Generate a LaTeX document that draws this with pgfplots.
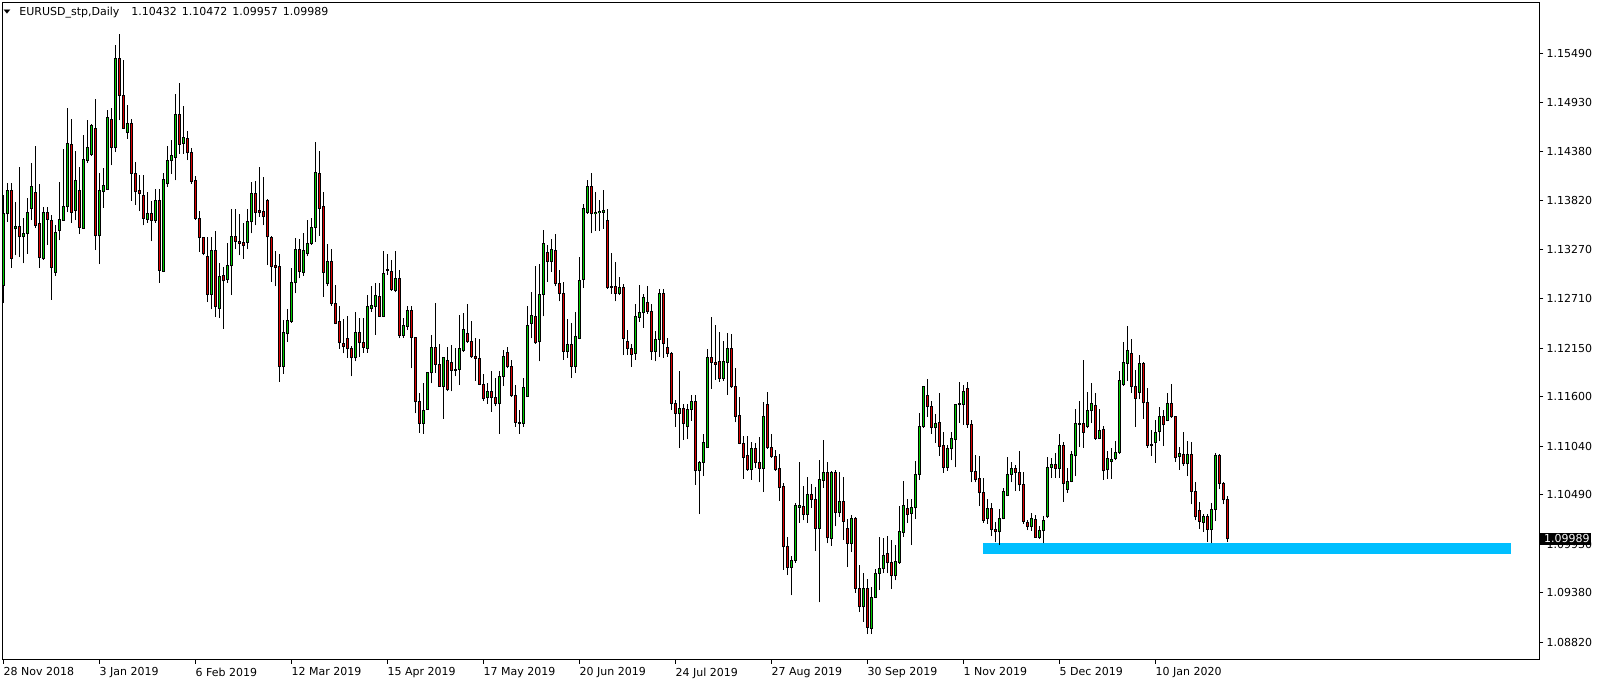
\documentclass[border=0pt]{standalone}
\usepackage{pgfplots}
\usepackage{pgfplotstable}
\usepackage{fontspec}
\setmainfont{DejaVu Sans}
\pgfplotsset{compat=1.18}

\definecolor{bull}{RGB}{0,205,0}
\definecolor{bear}{RGB}{220,0,0}
\definecolor{zone}{RGB}{0,191,255}

% EURUSD daily bars, i = 0 is 28 Nov 2018, i = 306 is 5 Feb 2020
\pgfplotstableread{
i o h l c
0 1.1286 1.1388 1.1266 1.1367
1 1.1367 1.1402 1.1358 1.1394
2 1.1394 1.1402 1.1306 1.1317
3 1.1350 1.1380 1.1320 1.1353
4 1.1353 1.1420 1.1318 1.1341
5 1.1341 1.1362 1.1311 1.1345
6 1.1345 1.1385 1.1322 1.1369
7 1.1373 1.1425 1.1360 1.1398
8 1.1391 1.1444 1.1351 1.1354
9 1.1356 1.1401 1.1306 1.1318
10 1.1316 1.1375 1.1315 1.1369
11 1.1369 1.1375 1.1332 1.1361
12 1.1360 1.1366 1.1270 1.1306
13 1.1301 1.1354 1.1297 1.1346
14 1.1348 1.1403 1.1337 1.1361
15 1.1360 1.1440 1.1359 1.1375
16 1.1375 1.1487 1.1369 1.1447
17 1.1446 1.1474 1.1357 1.1369
18 1.1371 1.1438 1.1360 1.1405
19 1.1393 1.1420 1.1344 1.1352
20 1.1351 1.1456 1.1350 1.1429
21 1.1428 1.1473 1.1425 1.1442
22 1.1434 1.1469 1.1433 1.1467
23 1.1464 1.1497 1.1326 1.1342
24 1.1342 1.1413 1.1310 1.1394
25 1.1392 1.1419 1.1374 1.1399
26 1.1395 1.1485 1.1394 1.1476
27 1.1474 1.1487 1.1422 1.1442
28 1.1442 1.1558 1.1437 1.1543
29 1.1543 1.1571 1.1473 1.1501
30 1.1501 1.1541 1.1463 1.1464
31 1.1459 1.1490 1.1452 1.1469
32 1.1469 1.1474 1.1382 1.1413
33 1.1413 1.1426 1.1377 1.1392
34 1.1393 1.1411 1.1370 1.1390
35 1.1388 1.1411 1.1354 1.1362
36 1.1361 1.1392 1.1357 1.1367
37 1.1367 1.1382 1.1336 1.1360
38 1.1359 1.1395 1.1357 1.1382
39 1.1382 1.1395 1.1289 1.1303
40 1.1302 1.1413 1.1301 1.1406
41 1.1401 1.1444 1.1398 1.1427
42 1.1427 1.1451 1.1412 1.1433
43 1.1431 1.1503 1.1405 1.1480
44 1.1480 1.1515 1.1435 1.1446
45 1.1447 1.1489 1.1435 1.1454
46 1.1452 1.1461 1.1428 1.1436
47 1.1436 1.1442 1.1401 1.1404
48 1.1405 1.1410 1.1360 1.1362
49 1.1362 1.1370 1.1324 1.1340
50 1.1340 1.1341 1.1320 1.1322
51 1.1319 1.1341 1.1267 1.1276
52 1.1276 1.1341 1.1259 1.1326
53 1.1326 1.1348 1.1250 1.1262
54 1.1260 1.1311 1.1249 1.1296
55 1.1297 1.1307 1.1237 1.1291
56 1.1293 1.1334 1.1289 1.1309
57 1.1308 1.1373 1.1275 1.1341
58 1.1341 1.1373 1.1327 1.1336
59 1.1336 1.1367 1.1320 1.1334
60 1.1335 1.1357 1.1316 1.1331
61 1.1335 1.1373 1.1327 1.1358
62 1.1358 1.1403 1.1345 1.1390
63 1.1390 1.1404 1.1354 1.1369
64 1.1371 1.1420 1.1364 1.1369
65 1.1370 1.1409 1.1354 1.1364
66 1.1382 1.1384 1.1309 1.1341
67 1.1340 1.1342 1.1290 1.1307
68 1.1308 1.1325 1.1285 1.1306
69 1.1307 1.1322 1.1177 1.1194
70 1.1194 1.1247 1.1186 1.1233
71 1.1231 1.1259 1.1222 1.1246
72 1.1245 1.1306 1.1244 1.1289
73 1.1289 1.1340 1.1277 1.1327
74 1.1327 1.1339 1.1294 1.1302
75 1.1301 1.1345 1.1297 1.1325
76 1.1322 1.1360 1.1319 1.1334
77 1.1334 1.1362 1.1332 1.1352
78 1.1352 1.1448 1.1335 1.1414
79 1.1413 1.1438 1.1342 1.1373
80 1.1375 1.1392 1.1273 1.1301
81 1.1288 1.1333 1.1285 1.1313
82 1.1313 1.1327 1.1263 1.1265
83 1.1266 1.1286 1.1242 1.1243
84 1.1245 1.1263 1.1214 1.1221
85 1.1220 1.1248 1.1209 1.1217
86 1.1226 1.1251 1.1204 1.1214
87 1.1214 1.1217 1.1183 1.1204
88 1.1204 1.1256 1.1200 1.1233
89 1.1233 1.1249 1.1205 1.1221
90 1.1221 1.1249 1.1210 1.1216
91 1.1215 1.1275 1.1210 1.1262
92 1.1260 1.1285 1.1256 1.1263
93 1.1262 1.1289 1.1230 1.1275
94 1.1274 1.1289 1.1250 1.1251
95 1.1251 1.1325 1.1250 1.1299
96 1.1304 1.1322 1.1298 1.1303
97 1.1302 1.1315 1.1280 1.1281
98 1.1280 1.1325 1.1278 1.1294
99 1.1294 1.1304 1.1226 1.1229
100 1.1229 1.1249 1.1227 1.1241
101 1.1240 1.1263 1.1236 1.1258
102 1.1258 1.1263 1.1192 1.1227
103 1.1227 1.1228 1.1141 1.1154
104 1.1155 1.1164 1.1119 1.1130
105 1.1130 1.1175 1.1118 1.1144
106 1.1146 1.1188 1.1145 1.1187
107 1.1187 1.1230 1.1175 1.1216
108 1.1216 1.1266 1.1187 1.1197
109 1.1196 1.1220 1.1171 1.1172
110 1.1172 1.1205 1.1135 1.1204
111 1.1201 1.1216 1.1166 1.1168
112 1.1199 1.1218 1.1166 1.1190
113 1.1190 1.1215 1.1183 1.1191
114 1.1191 1.1252 1.1173 1.1214
115 1.1212 1.1255 1.1211 1.1236
116 1.1231 1.1265 1.1221 1.1222
117 1.1222 1.1246 1.1204 1.1205
118 1.1205 1.1226 1.1178 1.1203
119 1.1203 1.1225 1.1173 1.1174
120 1.1174 1.1186 1.1155 1.1158
121 1.1159 1.1176 1.1152 1.1166
122 1.1166 1.1189 1.1143 1.1159
123 1.1159 1.1181 1.1149 1.1152
124 1.1152 1.1189 1.1118 1.1183
125 1.1183 1.1213 1.1172 1.1206
126 1.1210 1.1216 1.1192 1.1194
127 1.1194 1.1202 1.1160 1.1161
128 1.1161 1.1173 1.1126 1.1131
129 1.1131 1.1145 1.1118 1.1130
130 1.1130 1.1181 1.1126 1.1170
131 1.1160 1.1263 1.1160 1.1241
132 1.1243 1.1278 1.1226 1.1252
133 1.1251 1.1308 1.1220 1.1221
134 1.1222 1.1310 1.1200 1.1276
135 1.1276 1.1349 1.1251 1.1334
136 1.1323 1.1332 1.1290 1.1313
137 1.1313 1.1339 1.1301 1.1327
138 1.1326 1.1344 1.1285 1.1288
139 1.1288 1.1304 1.1268 1.1277
140 1.1277 1.1290 1.1202 1.1211
141 1.1211 1.1248 1.1204 1.1219
142 1.1219 1.1243 1.1181 1.1194
143 1.1194 1.1256 1.1187 1.1228
144 1.1226 1.1318 1.1225 1.1292
145 1.1293 1.1378 1.1283 1.1373
146 1.1369 1.1405 1.1367 1.1398
147 1.1398 1.1413 1.1345 1.1367
148 1.1367 1.1392 1.1348 1.1369
149 1.1368 1.1383 1.1348 1.1370
150 1.1369 1.1394 1.1350 1.1371
151 1.1360 1.1373 1.1282 1.1284
152 1.1285 1.1323 1.1276 1.1284
153 1.1285 1.1313 1.1268 1.1277
154 1.1277 1.1296 1.1275 1.1284
155 1.1284 1.1288 1.1207 1.1226
156 1.1222 1.1236 1.1207 1.1215
157 1.1215 1.1220 1.1194 1.1208
158 1.1209 1.1265 1.1202 1.1251
159 1.1250 1.1286 1.1245 1.1255
160 1.1255 1.1276 1.1238 1.1272
161 1.1267 1.1285 1.1254 1.1257
162 1.1257 1.1265 1.1202 1.1211
163 1.1211 1.1234 1.1200 1.1225
164 1.1225 1.1282 1.1205 1.1277
165 1.1277 1.1282 1.1204 1.1220
166 1.1216 1.1226 1.1205 1.1209
167 1.1209 1.1211 1.1145 1.1152
168 1.1152 1.1156 1.1126 1.1141
169 1.1141 1.1189 1.1102 1.1147
170 1.1147 1.1152 1.1111 1.1130
171 1.1126 1.1152 1.1112 1.1146
172 1.1146 1.1162 1.1133 1.1154
173 1.1154 1.1162 1.1060 1.1076
174 1.1076 1.1087 1.1027 1.1086
175 1.1086 1.1118 1.1070 1.1108
176 1.1102 1.1214 1.1102 1.1204
177 1.1204 1.1250 1.1169 1.1199
178 1.1199 1.1241 1.1179 1.1197
179 1.1200 1.1233 1.1177 1.1181
180 1.1181 1.1223 1.1178 1.1200
181 1.1199 1.1232 1.1162 1.1215
182 1.1214 1.1231 1.1170 1.1171
183 1.1172 1.1192 1.1131 1.1138
184 1.1139 1.1160 1.1106 1.1107
185 1.1107 1.1115 1.1067 1.1091
186 1.1093 1.1115 1.1076 1.1078
187 1.1078 1.1109 1.1066 1.1101
188 1.1101 1.1107 1.1079 1.1085
189 1.1086 1.1114 1.1063 1.1079
190 1.1079 1.1154 1.1052 1.1137
191 1.1151 1.1165 1.1101 1.1102
192 1.1102 1.1118 1.1091 1.1092
193 1.1092 1.1100 1.1076 1.1078
194 1.1079 1.1095 1.1042 1.1057
195 1.1058 1.1062 1.0964 1.0990
196 1.0990 1.1001 1.0958 1.0967
197 1.0967 1.0980 1.0935 1.0974
198 1.0974 1.1040 1.0972 1.1037
199 1.1035 1.1086 1.1017 1.1037
200 1.1036 1.1059 1.1020 1.1027
201 1.1027 1.1069 1.1017 1.1049
202 1.1049 1.1061 1.1034 1.1044
203 1.1044 1.1058 1.0985 1.1011
204 1.1011 1.1088 1.0927 1.1066
205 1.1065 1.1111 1.1057 1.1074
206 1.1074 1.1086 1.0994 1.1000
207 1.0999 1.1076 1.0991 1.1074
208 1.1074 1.1077 1.1013 1.1029
209 1.1029 1.1075 1.1024 1.1041
210 1.1041 1.1069 1.0998 1.1019
211 1.1011 1.1022 1.0967 1.0994
212 1.0994 1.1026 1.0984 1.1022
213 1.1022 1.1024 1.0938 1.0943
214 1.0943 1.0969 1.0916 1.0922
215 1.0922 1.0960 1.0905 1.0943
216 1.0943 1.0954 1.0891 1.0899
217 1.0898 1.0944 1.0891 1.0933
218 1.0933 1.0965 1.0932 1.0960
219 1.0960 1.1001 1.0941 1.0965
220 1.0965 1.1000 1.0960 1.0980
221 1.0982 1.1002 1.0960 1.0972
222 1.0972 1.0998 1.0942 1.0957
223 1.0957 1.0992 1.0952 1.0973
224 1.0972 1.1036 1.0971 1.1007
225 1.1006 1.1065 1.1001 1.1037
226 1.1033 1.1044 1.1017 1.1027
227 1.1028 1.1044 1.0992 1.1034
228 1.1034 1.1087 1.1022 1.1072
229 1.1072 1.1142 1.1066 1.1126
230 1.1126 1.1172 1.1125 1.1171
231 1.1161 1.1180 1.1137 1.1149
232 1.1149 1.1155 1.1118 1.1125
233 1.1125 1.1140 1.1108 1.1130
234 1.1131 1.1164 1.1093 1.1104
235 1.1105 1.1120 1.1074 1.1080
236 1.1080 1.1105 1.1076 1.1101
237 1.1101 1.1120 1.1088 1.1113
238 1.1112 1.1152 1.1080 1.1151
239 1.1151 1.1177 1.1130 1.1152
240 1.1151 1.1173 1.1128 1.1166
241 1.1169 1.1177 1.1125 1.1128
242 1.1129 1.1134 1.1063 1.1075
243 1.1075 1.1094 1.1063 1.1066
244 1.1067 1.1093 1.1036 1.1051
245 1.1051 1.1068 1.1017 1.1020
246 1.1022 1.1044 1.1016 1.1033
247 1.1033 1.1040 1.1002 1.1010
248 1.1010 1.1018 1.0995 1.1007
249 1.1007 1.1033 1.0992 1.1022
250 1.1022 1.1057 1.1021 1.1053
251 1.1048 1.1092 1.1047 1.1072
252 1.1072 1.1086 1.1063 1.1079
253 1.1079 1.1083 1.1053 1.1074
254 1.1074 1.1098 1.1053 1.1060
255 1.1060 1.1075 1.1016 1.1019
256 1.1018 1.1020 1.1009 1.1013
257 1.1013 1.1028 1.1008 1.1022
258 1.1021 1.1026 1.1000 1.1001
259 1.1001 1.1014 1.0999 1.1009
260 1.1008 1.1025 1.0994 1.1020
261 1.1024 1.1092 1.1023 1.1080
262 1.1080 1.1091 1.1068 1.1083
263 1.1083 1.1096 1.1068 1.1079
264 1.1079 1.1118 1.1068 1.1105
265 1.1105 1.1109 1.1041 1.1062
266 1.1055 1.1079 1.1051 1.1064
267 1.1064 1.1098 1.1063 1.1094
268 1.1093 1.1146 1.1070 1.1130
269 1.1129 1.1155 1.1103 1.1130
270 1.1130 1.1201 1.1102 1.1120
271 1.1126 1.1165 1.1124 1.1144
272 1.1144 1.1175 1.1130 1.1152
273 1.1150 1.1164 1.1111 1.1113
274 1.1113 1.1146 1.1112 1.1122
275 1.1123 1.1127 1.1066 1.1076
276 1.1077 1.1098 1.1067 1.1090
277 1.1087 1.1102 1.1067 1.1089
278 1.1090 1.1110 1.1088 1.1097
279 1.1097 1.1189 1.1095 1.1178
280 1.1174 1.1222 1.1172 1.1199
281 1.1198 1.1240 1.1178 1.1212
282 1.1209 1.1225 1.1164 1.1172
283 1.1172 1.1190 1.1126 1.1158
284 1.1165 1.1207 1.1157 1.1198
285 1.1198 1.1199 1.1135 1.1153
286 1.1153 1.1170 1.1102 1.1105
287 1.1106 1.1122 1.1093 1.1105
288 1.1108 1.1134 1.1085 1.1120
289 1.1121 1.1148 1.1110 1.1137
290 1.1137 1.1145 1.1104 1.1128
291 1.1133 1.1164 1.1132 1.1152
292 1.1152 1.1174 1.1136 1.1137
293 1.1137 1.1138 1.1086 1.1091
294 1.1092 1.1103 1.1077 1.1096
295 1.1095 1.1120 1.1082 1.1084
296 1.1084 1.1110 1.1070 1.1094
297 1.1094 1.1109 1.1038 1.1053
298 1.1053 1.1063 1.1020 1.1024
299 1.1031 1.1041 1.1010 1.1019
300 1.1018 1.1027 1.1007 1.1024
301 1.1024 1.1027 1.0996 1.1010
302 1.1010 1.1040 1.0994 1.1032
303 1.1032 1.1096 1.1019 1.1093
304 1.1093 1.1095 1.1055 1.1062
305 1.1062 1.1063 1.1038 1.1043
306 1.10432 1.10472 1.09957 1.09989
}\candles

\begin{document}
\begin{tikzpicture}
\begin{axis}[
  at={(0pt,0pt)}, anchor=south west,
  scale only axis, width=1537pt, height=657pt,
  xmin=-0.25, xmax=384.0,
  ymin=1.086238, ymax=1.160637,
  axis line style={black, line width=1pt},
  tick align=outside, major tick length=4pt,
  tick style={black, line width=1pt},
  xtick pos=bottom, ytick pos=right, yticklabel pos=right,
  xtick={0,24,...,288},
  xticklabels={28 Nov 2018, 3 Jan 2019, 6 Feb 2019, 12 Mar 2019, 15 Apr 2019, 17 May 2019, 20 Jun 2019, 24 Jul 2019, 27 Aug 2019, 30 Sep 2019, 1 Nov 2019, 5 Dec 2019, 10 Jan 2020},
  ytick={1.08820,1.09380,1.09930,1.10490,1.11040,1.11600,1.12150,1.12710,1.13270,1.13820,1.14380,1.14930,1.15490},
  yticklabels={1.08820,1.09380,1.09930,1.10490,1.11040,1.11600,1.12150,1.12710,1.13270,1.13820,1.14380,1.14930,1.15490},
  ticklabel style={font=\fontsize{11}{13}\selectfont},
  xticklabel style={anchor=north west, inner sep=0pt, yshift=-4pt},
  yticklabel style={anchor=west, inner sep=0pt, xshift=3pt},
  extra y ticks={1.09989},
  extra y tick labels={\kern3pt 1.09989},
  extra y tick style={major tick length=0pt,
    yticklabel style={fill=black, text=white, inner xsep=1.5pt, inner ysep=1.5pt, xshift=-3pt}},
  title={\raisebox{2pt}{\scalebox{1}[0.6]{\fontsize{9}{9}\selectfont ▼}}\hspace{9pt}EURUSD\_stp,Daily\hspace{12pt}1.10432\hspace{5pt}1.10472\hspace{5pt}1.09957\hspace{5pt}1.09989},
  every axis title/.style={at={(0,1)}, anchor=base west, inner sep=0pt,
    xshift=0.8pt, yshift=-13.5pt, font=\fontsize{11}{13}\selectfont},
]
% support zone drawn behind the bars
\addplot[fill=zone, draw=none, forget plot]
  coordinates {(244.9,1.09819) (376.9,1.09819) (376.9,1.09946) (244.9,1.09946)} --cycle;
% wicks
\addplot[forget plot, draw=none, mark=none,
  error bars/.cd, y dir=plus, y explicit, error mark=none,
  error bar style={draw=black, line width=1pt}]
  table[x=i, y=l, y error plus expr=\thisrow{h}-\thisrow{l}] {\candles};
% body outlines
\addplot[forget plot, draw=none, mark=none,
  error bars/.cd, y dir=plus, y explicit, error mark=none,
  error bar style={draw=black, line width=3pt, shorten <=-0.5pt, shorten >=-0.5pt}]
  table[x=i, y expr={min(\thisrow{o},\thisrow{c})},
        y error plus expr={abs(\thisrow{c}-\thisrow{o})}] {\candles};
% bull bodies
\addplot[forget plot, draw=none, mark=none,
  restrict expr to domain={\thisrow{c}-\thisrow{o}}{0.00015:1},
  error bars/.cd, y dir=plus, y explicit, error mark=none,
  error bar style={draw=bull, line width=1pt, shorten <=0.5pt, shorten >=0.5pt}]
  table[x=i, y=o, y error plus expr={\thisrow{c}-\thisrow{o}}] {\candles};
% bear bodies
\addplot[forget plot, draw=none, mark=none,
  restrict expr to domain={\thisrow{c}-\thisrow{o}}{-1:-0.00015},
  error bars/.cd, y dir=plus, y explicit, error mark=none,
  error bar style={draw=bear, line width=1pt, shorten <=0.5pt, shorten >=0.5pt}]
  table[x=i, y=c, y error plus expr={\thisrow{o}-\thisrow{c}}] {\candles};
\end{axis}
\pgfresetboundingbox
\path (-2.5pt,-23.5pt) rectangle (1601.5pt,659.5pt);
\end{tikzpicture}
\end{document}
